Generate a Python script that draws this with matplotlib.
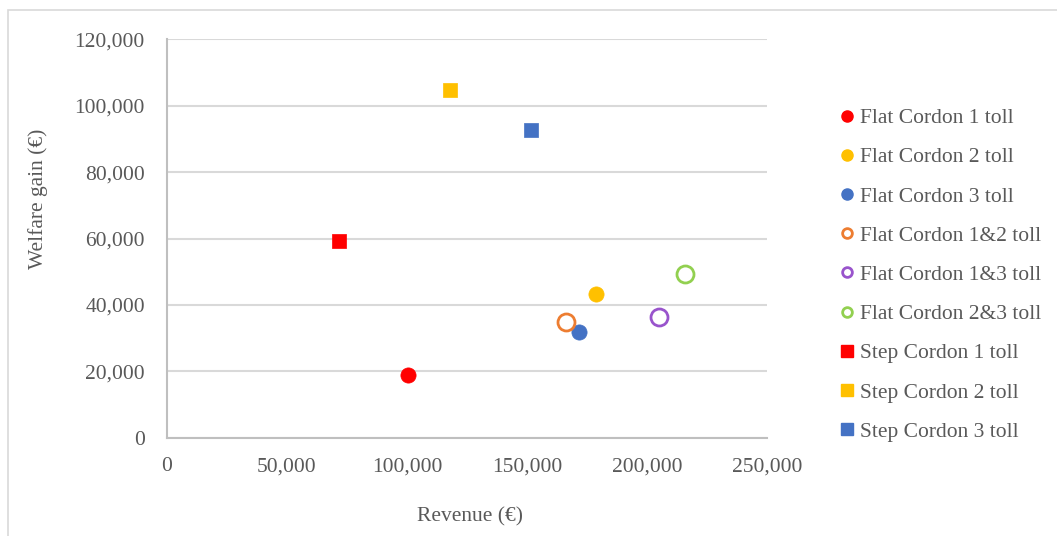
import matplotlib
matplotlib.use("Agg")
import matplotlib.pyplot as plt
from matplotlib.lines import Line2D
from matplotlib.patches import Rectangle
from matplotlib.ticker import FuncFormatter, MultipleLocator

# Scenario results: revenue (EUR) vs welfare gain (EUR)
labels = [
    "Flat Cordon 1 toll", "Flat Cordon 2 toll", "Flat Cordon 3 toll",
    "Flat Cordon 1&2 toll", "Flat Cordon 1&3 toll", "Flat Cordon 2&3 toll",
    "Step Cordon 1 toll", "Step Cordon 2 toll", "Step Cordon 3 toll",
]
revenue = [100300, 178700, 171800, 166100, 205100, 216000, 71500, 117900, 151500]
welfare = [19000, 43300, 32000, 35000, 36500, 49300, 59300, 104700, 92700]

colors = ["#FF0000", "#FFC000", "#4472C4", "#ED7D31", "#9954CC", "#92D050",
          "#FF0000", "#FFC000", "#4472C4"]
markers = ["o", "o", "o", "o", "o", "o", "s", "s", "s"]
filled = [True, True, True, False, False, False, True, True, True]

plt.rcParams["font.family"] = ["Liberation Serif", "DejaVu Serif"]
text_color = "#595959"
fs = 15.5

fig = plt.figure(figsize=(10.57, 5.36), dpi=100)
ax = fig.add_axes([0.158, 0.183, 0.5676, 0.744])

for x, y, c, m, f in zip(revenue, welfare, colors, markers, filled):
    if f:
        ax.scatter([x], [y], s=120 if m == "o" else 115, marker=m, color=c,
                   edgecolors=c, linewidths=0.5, zorder=3)
    else:
        ax.scatter([x], [y], s=150, marker=m, facecolors="white",
                   edgecolors=c, linewidths=2.0, zorder=3)

ax.set_xlim(0, 250000)
ax.set_ylim(0, 120000)
ax.xaxis.set_major_locator(MultipleLocator(50000))
ax.yaxis.set_major_locator(MultipleLocator(20000))
fmt = FuncFormatter(lambda v, p: f"{int(v):,}")
ax.xaxis.set_major_formatter(fmt)
ax.yaxis.set_major_formatter(fmt)

ax.grid(axis="y", color="#D9D9D9", linewidth=1.5, zorder=0)
ax.set_axisbelow(True)
for side in ["top", "right"]:
    ax.spines[side].set_visible(False)
for side in ["left", "bottom"]:
    ax.spines[side].set_color("#BFBFBF")
    ax.spines[side].set_linewidth(1.5)

ax.tick_params(axis="both", length=0, labelsize=fs, colors=text_color)
ax.tick_params(axis="x", pad=14)
ax.tick_params(axis="y", pad=16)

ax.set_xlabel("Revenue (\u20ac)", fontsize=fs, color=text_color)
ax.xaxis.set_label_coords(0.505, -0.175)
ax.set_ylabel("Welfare gain (\u20ac)", fontsize=fs, color=text_color)
ax.yaxis.set_label_coords(-0.198, 0.60)

handles = []
for lab, c, m, f in zip(labels, colors, markers, filled):
    if f:
        h = Line2D([], [], linestyle="none", marker=m, markersize=8,
                   markerfacecolor=c, markeredgecolor=c, label=lab)
    else:
        h = Line2D([], [], linestyle="none", marker=m, markersize=7,
                   markerfacecolor="white", markeredgecolor=c,
                   markeredgewidth=2, label=lab)
    handles.append(h)

leg = fig.legend(handles=handles, loc="center left",
                 bbox_to_anchor=(0.788, 0.487), frameon=False,
                 fontsize=fs, handlelength=0.55, handletextpad=0.3,
                 labelspacing=0.89, borderaxespad=0)
for t in leg.get_texts():
    t.set_color(text_color)

# light outer chart frame
fig.patches.append(Rectangle((8 / 1057, -0.01), 1.02, 1 - 10 / 536 + 0.01,
                             transform=fig.transFigure, fill=False,
                             edgecolor="#D9D9D9", linewidth=1.2))

fig.savefig("out.png", dpi=100)
